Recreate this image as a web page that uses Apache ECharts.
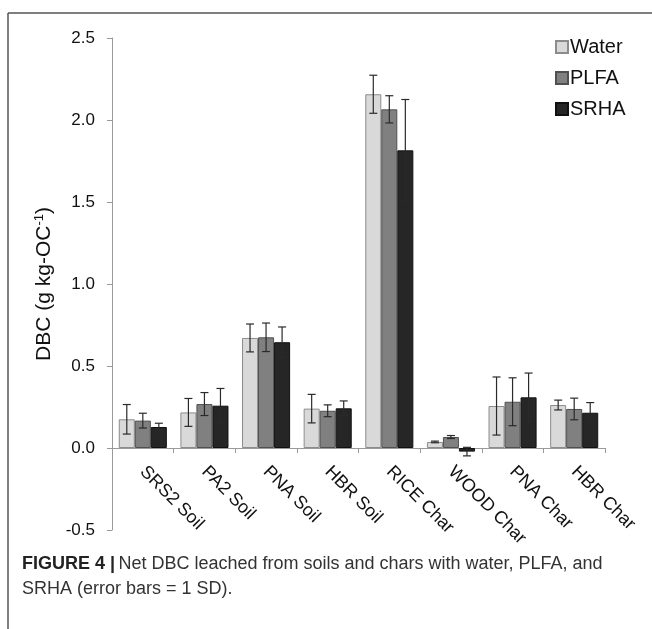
<!DOCTYPE html>
<html>
<head>
<meta charset="utf-8">
<script src="https://cdn.jsdelivr.net/npm/echarts@6/dist/echarts.min.js"></script>
<style>
  html, body { margin: 0; padding: 0; background: #fff; }
  #chart { width: 652px; height: 629px; }
</style>
</head>
<body>
<div id="chart"></div>
<script>
// Sample categories (soils and chars)
const categories = ['SRS2 Soil', 'PA2 Soil', 'PNA Soil', 'HBR Soil', 'RICE Char', 'WOOD Char', 'PNA Char', 'HBR Char'];

// Mean DBC leached (g kg-OC^-1) by extractant
const waterMean = [0.175, 0.217, 0.671, 0.240, 2.157, 0.037, 0.256, 0.262];
const plfaMean  = [0.167, 0.268, 0.675, 0.227, 2.065, 0.067, 0.282, 0.238];
const srhaMean  = [0.128, 0.258, 0.645, 0.242, 1.815, -0.022, 0.309, 0.215];

// Standard deviations (error bars = 1 SD)
const waterSd = [0.090, 0.085, 0.085, 0.087, 0.116, 0.005, 0.177, 0.030];
const plfaSd  = [0.045, 0.070, 0.087, 0.036, 0.083, 0.009, 0.146, 0.066];
const srhaSd  = [0.023, 0.105, 0.093, 0.045, 0.310, 0.026, 0.148, 0.062];

// Y axis ticks
const yTicks = [-0.5, 0.0, 0.5, 1.0, 1.5, 2.0, 2.5];

const seriesNames = ['Water', 'PLFA', 'SRHA'];
const fills = ['#d9d9d9', '#808080', '#262626'];
const borders = ['#8c8c8c', '#505050', '#111111'];
const means = [waterMean, plfaMean, srhaMean];
const sds = [waterSd, plfaSd, srhaSd];

const CAT_GAP = 0.22;
const FONT = 'Liberation Sans, Arial, Helvetica, sans-serif';

// Plot area edges in pixels
const GRID = { left: 112, right: 47, top: 38, bottom: 99 };
const PLOT_H = 629 - GRID.top - GRID.bottom;
// The category axis sits at y = 0; shift it up from the grid bottom
const ZERO_SHIFT = PLOT_H * (0 - yTicks[0]) / (yTicks[yTicks.length - 1] - yTicks[0]);

function errorBarRenderer(k) {
  return function (params, api) {
    const xi = api.value(0), m = api.value(1), sd = api.value(2);
    const band = api.size([1, 0])[0];
    const bw = band * (1 - CAT_GAP) / 3;
    const base = api.coord([xi, m]);
    const hi = api.coord([xi, m + sd]);
    const lo = api.coord([xi, m - sd]);
    const cx = base[0] + (k - 1) * bw;
    const cap = 4;
    const style = { stroke: '#2a2a2a', lineWidth: 1.2 };
    return {
      type: 'group',
      children: [
        { type: 'line', shape: { x1: cx, y1: hi[1], x2: cx, y2: lo[1] }, style },
        { type: 'line', shape: { x1: cx - cap, y1: hi[1], x2: cx + cap, y2: hi[1] }, style },
        { type: 'line', shape: { x1: cx - cap, y1: lo[1], x2: cx + cap, y2: lo[1] }, style }
      ]
    };
  };
}

const series = [];
seriesNames.forEach((name, k) => {
  series.push({
    name: name,
    type: 'bar',
    data: means[k],
    barCategoryGap: (CAT_GAP * 100) + '%',
    barGap: '0%',
    itemStyle: { color: fills[k], borderColor: borders[k], borderWidth: 1 },
    emphasis: { disabled: true },
    animation: false
  });
});
seriesNames.forEach((name, k) => {
  series.push({
    type: 'custom',
    renderItem: errorBarRenderer(k),
    data: means[k].map((m, i) => [i, m, sds[k][i]]),
    encode: { x: 0, y: 1 },
    z: 5,
    silent: true,
    animation: false
  });
});

const chart = echarts.init(document.getElementById('chart'), null, { renderer: 'canvas' });
chart.setOption({
  backgroundColor: '#fff',
  animation: false,
  textStyle: { fontFamily: FONT },
  grid: { left: GRID.left, right: GRID.right, top: GRID.top, bottom: GRID.bottom, containLabel: false },
  legend: {
    orient: 'vertical',
    left: 550,
    top: 32,
    itemWidth: 12,
    itemHeight: 12,
    itemGap: 11,
    icon: 'rect',
    data: seriesNames,
    textStyle: { fontSize: 20, lineHeight: 20, color: '#111', fontFamily: FONT, padding: [0, 0, 0, -3] }
  },
  xAxis: {
    type: 'category',
    data: categories,
    offset: -ZERO_SHIFT,
    axisLine: { onZero: false, lineStyle: { color: '#9a9a9a', width: 1 } },
    axisTick: { show: true, length: 5, lineStyle: { color: '#9a9a9a' } },
    axisLabel: {
      rotate: -45,
      interval: 0,
      margin: 21,
      fontSize: 18,
      color: '#111',
      fontFamily: FONT
    }
  },
  yAxis: {
    type: 'value',
    min: yTicks[0],
    max: yTicks[yTicks.length - 1],
    interval: 0.5,
    name: '{a|DBC (g kg-OC}{s|-1}{a|)}',
    nameLocation: 'middle',
    nameGap: 54,
    nameTextStyle: {
      rich: {
        a: { fontSize: 21, color: '#111', fontFamily: FONT },
        s: { fontSize: 13, color: '#111', fontFamily: FONT, verticalAlign: 'top', padding: [0, 0, 10, 0] }
      }
    },
    splitLine: { show: false },
    axisLine: { show: true, lineStyle: { color: '#9a9a9a', width: 1 } },
    axisTick: { show: true, length: 5, lineStyle: { color: '#9a9a9a' } },
    axisLabel: {
      fontSize: 17,
      color: '#111',
      margin: 17,
      fontFamily: FONT,
      formatter: v => v.toFixed(1)
    }
  },
  graphic: [
    { type: 'line', shape: { x1: 8, y1: 13, x2: 652, y2: 13 }, style: { stroke: '#555', lineWidth: 1.5 } },
    { type: 'line', shape: { x1: 8, y1: 13, x2: 8, y2: 629 }, style: { stroke: '#555', lineWidth: 1.5 } },
    {
      type: 'text', left: 22, top: 555,
      style: {
        text: '{b|FIGURE 4 |} {r|Net DBC leached from soils and chars with water, PLFA, and}\n{r|SRHA (error bars = 1 SD).}',
        rich: {
          b: { fontSize: 18, fontWeight: 'bold', fill: '#222', fontFamily: FONT, lineHeight: 25 },
          r: { fontSize: 18, fill: '#333', fontFamily: FONT, lineHeight: 25 }
        }
      }
    }
  ],
  series: series
});
</script>
</body>
</html>
